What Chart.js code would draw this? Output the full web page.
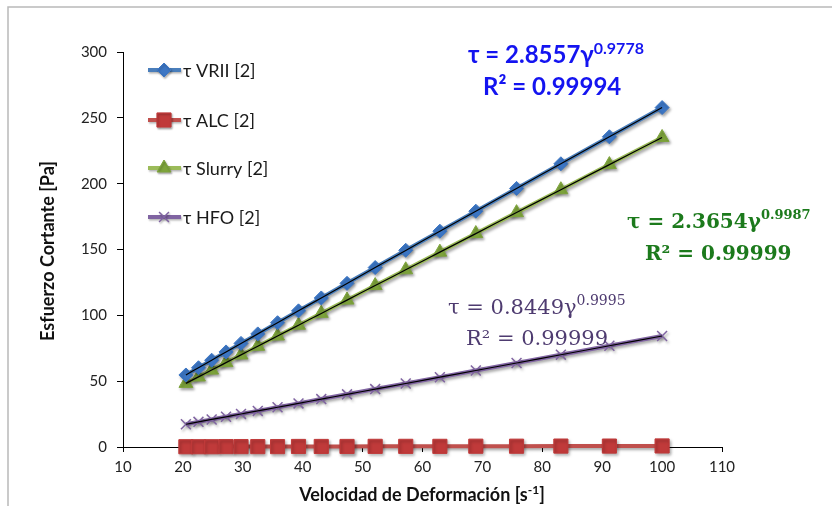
<!DOCTYPE html>
<html>
<head>
<meta charset="utf-8">
<script src="https://cdn.jsdelivr.net/npm/chart.js@4.4.1/dist/chart.umd.min.js"></script>
<style>
  html, body { margin: 0; padding: 0; background: #fff; }
  #wrap { width: 832px; height: 506px; position: relative; }
</style>
</head>
<body>
<div id="wrap"><canvas id="rheoChart"></canvas></div>
<script>
// shear rate, 1/s
const shearRate = [20.5, 22.6, 24.8, 27.2, 29.7, 32.5, 35.8, 39.3, 43.1, 47.4, 52.1, 57.2, 62.9, 68.9, 75.7, 83.1, 91.2, 100];
// shear stress, Pa
const vrii   = [54.7, 60.2, 65.9, 72.2, 78.7, 85.9, 94.4, 103.4, 113.2, 124.3, 136.3, 149.4, 163.9, 179.1, 196.4, 215.1, 235.6, 257.8];
const alc    = [0.2, 0.2, 0.2, 0.3, 0.3, 0.3, 0.3, 0.4, 0.4, 0.4, 0.5, 0.5, 0.5, 0.6, 0.6, 0.7, 0.7, 0.8];
const slurry = [48.3, 53.2, 58.4, 64.1, 69.9, 76.5, 84.3, 92.5, 101.5, 111.6, 122.6, 134.6, 148.0, 162.1, 178.0, 195.4, 214.5, 235.1];
const hfo    = [17.3, 19.1, 20.9, 23.0, 25.1, 27.4, 30.2, 33.1, 36.4, 40.0, 44.0, 48.2, 53.0, 58.1, 63.8, 70.1, 76.9, 84.3];
const seriesNames = ['τ VRII [2]', 'τ ALC [2]', 'τ Slurry [2]', 'τ HFO [2]'];

// axis ranges
const xRange = [10, 110, 10];
const yRange = [0, 300, 50];

// power-law fits printed on the chart: tau = k * gamma^n
const fitK  = ['2.8557', '2.3654', '0.8449'];
const fitN  = ['0.9778', '0.9987', '0.9995'];
const fitR2 = ['0.99994', '0.99999', '0.99999'];

function pts(ys) { return shearRate.map((x, i) => ({ x: x, y: ys[i] })); }
function fitPts(k, n) { return shearRate.map(x => ({ x: x, y: parseFloat(k) * Math.pow(x, parseFloat(n)) })); }

const styles = [
  { line: '#4a7ebb', fill: '#3c76c4', pointStyle: 'rectRot', radius: 7 },
  { line: '#c0504d', fill: '#c03a3a', pointStyle: 'rect', radius: 10 },
  { line: '#9bbb59', fill: '#7ea43c', pointStyle: 'triangle', radius: 8 },
  { line: '#8064a2', fill: '#8064a2', pointStyle: 'crossRot', radius: 7 }
];
const seriesData = [vrii, alc, slurry, hfo];

const datasets = seriesData.map((ys, i) => ({
  label: seriesNames[i],
  data: pts(ys),
  borderColor: styles[i].line,
  borderWidth: 4,
  pointStyle: styles[i].pointStyle,
  pointRadius: styles[i].radius,
  pointBackgroundColor: styles[i].fill,
  pointBorderColor: styles[i].fill,
  pointBorderWidth: i === 3 ? 1.5 : 1,
  tension: 0,
  clip: false,
  order: 1,
  shadow: true
}));

// black trend lines from the fits
[0, 2, 3].forEach((si, j) => {
  datasets.push({
    label: 'fit ' + seriesNames[si],
    data: fitPts(fitK[j], fitN[j]),
    borderColor: '#000',
    borderWidth: 1.2,
    pointRadius: 0,
    tension: 0.2,
    clip: false,
    order: 0
  });
});

function drawParts(ctx, x, y, parts) {
  let cx = x;
  parts.forEach(p => {
    ctx.font = p.font;
    ctx.fillText(p.text, cx, y + (p.dy || 0));
    cx += ctx.measureText(p.text).width;
  });
}

const decor = {
  id: 'decor',
  beforeDraw(chart) {
    const ctx = chart.ctx;
    ctx.save();
    ctx.strokeStyle = '#b9b9b9';
    ctx.lineWidth = 1.5;
    ctx.strokeRect(8, 7, 900, 600);
    ctx.restore();
  },
  beforeDatasetDraw(chart, args) {
    const ctx = chart.ctx;
    ctx.save();
    if (chart.data.datasets[args.index].shadow) {
      ctx.shadowColor = 'rgba(0,0,0,0.35)';
      ctx.shadowBlur = 3;
      ctx.shadowOffsetX = 1.5;
      ctx.shadowOffsetY = 2;
    }
  },
  afterDatasetDraw(chart) {
    chart.ctx.restore();
  },
  afterDraw(chart) {
    const ctx = chart.ctx;
    ctx.save();

    // legend inside the plot
    const legendY = [70, 120, 168, 217];
    styles.forEach((s, i) => {
      const y = legendY[i];
      ctx.save();
      ctx.shadowColor = 'rgba(0,0,0,0.3)';
      ctx.shadowBlur = 2;
      ctx.shadowOffsetX = 1;
      ctx.shadowOffsetY = 1.5;
      ctx.strokeStyle = s.line;
      ctx.lineWidth = 4;
      ctx.beginPath();
      ctx.moveTo(148, y);
      ctx.lineTo(181, y);
      ctx.stroke();
      ctx.fillStyle = s.fill;
      ctx.strokeStyle = s.fill;
      ctx.lineWidth = i === 3 ? 1.5 : 1;
      Chart.helpers.drawPoint(ctx, { pointStyle: s.pointStyle, radius: s.radius, rotation: 0, borderWidth: ctx.lineWidth }, 164, y);
      ctx.restore();
      ctx.fillStyle = '#1a1a1a';
      ctx.font = '18px Lato';
      ctx.textBaseline = 'middle';
      ctx.fillText(seriesNames[i], 183, y + 1);
    });

    // axis titles
    ctx.fillStyle = '#111';
    ctx.textBaseline = 'middle';
    ctx.save();
    ctx.translate(48, 251);
    ctx.rotate(-Math.PI / 2);
    ctx.textAlign = 'center';
    ctx.font = 'bold 18px Lato';
    ctx.fillText('Esfuerzo Cortante [Pa]', 0, 0);
    ctx.restore();

    ctx.textBaseline = 'alphabetic';
    const xParts = [
      { text: 'Velocidad de Deformación [s', font: 'bold 18px Lato' },
      { text: '-1', font: 'bold 12px Lato', dy: -7 },
      { text: ']', font: 'bold 18px Lato' }
    ];
    let w = 0;
    xParts.forEach(p => { ctx.font = p.font; w += ctx.measureText(p.text).width; });
    drawParts(ctx, 422 - w / 2, 501, xParts);

    // fit equations
    const eqs = [
      { color: '#1414f0', big: 'bold 24px Lato', sup: 'bold 16px Lato', x1: 468, y1: 63, x2: 483, y2: 95, supDy: -9 },
      { color: '#1c7a1c', big: 'bold 20px "DejaVu Serif"', sup: 'bold 13px "DejaVu Serif"', x1: 627, y1: 228, x2: 645, y2: 260, supDy: -9 },
      { color: '#4e3b70', big: '21px "DejaVu Serif"', sup: '14px "DejaVu Serif"', x1: 448, y1: 314, x2: 466, y2: 345, supDy: -9 }
    ];
    eqs.forEach((e, j) => {
      ctx.fillStyle = e.color;
      drawParts(ctx, e.x1, e.y1, [
        { text: 'τ = ' + fitK[j] + 'γ', font: e.big },
        { text: fitN[j], font: e.sup, dy: e.supDy }
      ]);
      drawParts(ctx, e.x2, e.y2, [{ text: 'R² = ' + fitR2[j], font: e.big }]);
    });

    ctx.restore();
  }
};

new Chart(document.getElementById('rheoChart'), {
  type: 'line',
  data: { datasets: datasets },
  plugins: [decor],
  options: {
    responsive: true,
    maintainAspectRatio: false,
    animation: false,
    layout: { padding: { left: 0, top: 52, right: 110, bottom: 0 } },
    plugins: { legend: { display: false }, tooltip: { enabled: false } },
    scales: {
      x: {
        type: 'linear',
        min: xRange[0], max: xRange[1],
        afterFit(scale) { scale.height = 59; },
        border: { color: '#000', width: 1 },
        grid: { drawOnChartArea: false, drawTicks: true, tickLength: 5, color: '#000' },
        ticks: { stepSize: xRange[2], color: '#222', font: { family: 'Lato', size: 15 }, padding: 6, maxRotation: 0 }
      },
      y: {
        min: yRange[0], max: yRange[1],
        afterFit(scale) { scale.width = 123; },
        border: { color: '#000', width: 1 },
        grid: { drawOnChartArea: false, drawTicks: true, tickLength: 6, color: '#000' },
        ticks: { stepSize: yRange[2], color: '#222', font: { family: 'Lato', size: 15 }, padding: 10 }
      }
    }
  }
});
</script>
</body>
</html>
